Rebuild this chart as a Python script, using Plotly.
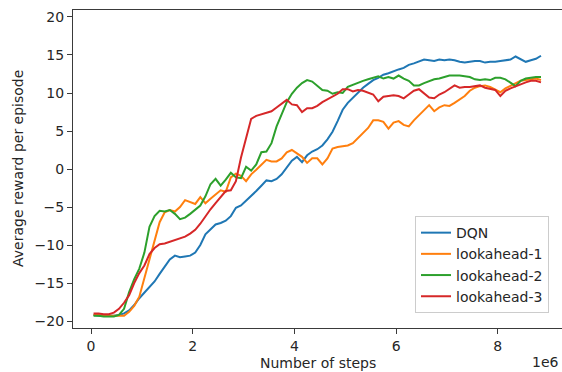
import plotly.graph_objects as go

# x positions in units of 1e6 steps
steps = [0.05, 0.15, 0.25, 0.35, 0.45, 0.55, 0.65, 0.75, 0.85, 0.95,
         1.05, 1.15, 1.25, 1.35, 1.45, 1.55, 1.65, 1.75, 1.85, 1.95,
         2.05, 2.15, 2.25, 2.35, 2.45, 2.55, 2.65, 2.75, 2.85, 2.95,
         3.05, 3.15, 3.25, 3.35, 3.45, 3.55, 3.65, 3.75, 3.85, 3.95,
         4.05, 4.15, 4.25, 4.35, 4.45, 4.55, 4.65, 4.75, 4.85, 4.95,
         5.05, 5.15, 5.25, 5.35, 5.45, 5.55, 5.65, 5.75, 5.85, 5.95,
         6.05, 6.15, 6.25, 6.35, 6.45, 6.55, 6.65, 6.75, 6.85, 6.95,
         7.05, 7.15, 7.25, 7.35, 7.45, 7.55, 7.65, 7.75, 7.85, 7.95,
         8.05, 8.15, 8.25, 8.35, 8.45, 8.55, 8.65, 8.75, 8.85]

dqn = [-19.2, -19.3, -19.3, -19.3, -19.3, -19.2, -19.0, -18.6, -17.9, -17.0,
       -16.3, -15.5, -14.8, -13.8, -12.9, -11.9, -11.4, -11.6, -11.5, -11.4,
       -11.0, -10.0, -8.6, -8.0, -7.3, -7.1, -6.8, -6.2, -5.1, -4.8,
       -4.2, -3.6, -2.9, -2.2, -1.5, -1.6, -1.3, -0.7, 0.2, 1.1,
       1.6, 0.9, 1.8, 2.3, 2.6, 3.1, 3.9, 4.9, 6.3, 7.8,
       8.7, 9.4, 10.0, 10.7, 11.2, 11.7, 12.0, 12.4, 12.6, 12.9,
       13.1, 13.3, 13.7, 13.9, 14.1, 14.4, 14.3, 14.2, 14.4, 14.3,
       14.4, 14.3, 14.1, 14.0, 14.1, 14.2, 14.2, 14.0, 14.1, 14.1,
       14.2, 14.3, 14.4, 14.8, 14.4, 14.1, 14.3, 14.5, 14.9]

lookahead1 = [-19.2, -19.2, -19.3, -19.3, -19.3, -19.3, -19.3, -18.8, -18.0, -16.8,
              -14.3, -11.8, -9.3, -7.0, -5.7, -5.4, -5.6, -5.0, -4.1, -4.4,
              -4.6, -3.7, -4.5, -3.9, -3.3, -2.8, -3.0, -1.1, -0.6, -0.9,
              -1.6, -0.7, -0.1, 0.6, 1.2, 1.0, 1.0, 1.4, 2.2, 2.5,
              2.0, 1.6, 0.8, 1.4, 1.4, 0.6, 1.4, 2.7, 2.9, 3.0,
              3.1, 3.4, 4.1, 4.8, 5.4, 6.4, 6.4, 6.2, 5.3, 6.1,
              6.3, 5.8, 5.6, 6.4, 7.1, 7.8, 8.4, 7.6, 8.1, 8.4,
              8.3, 8.7, 9.1, 9.6, 10.3, 10.7, 10.9, 11.0, 10.8, 10.4,
              10.1, 10.6, 10.9, 11.2, 11.6, 11.7, 11.8, 11.9, 11.7]

lookahead2 = [-19.3, -19.3, -19.4, -19.4, -19.4, -19.2, -18.4, -16.2, -14.5, -13.1,
              -11.0, -7.6, -6.2, -5.5, -5.6, -5.4, -5.9, -6.6, -6.4, -5.9,
              -5.4, -4.8, -3.6, -2.0, -1.3, -2.2, -1.4, -0.5, -1.1, -1.2,
              0.3, -0.2, 0.6, 2.2, 2.3, 3.4, 5.6, 7.1, 8.8, 9.9,
              10.7, 11.3, 11.7, 11.5, 11.0, 10.4, 10.3, 9.9, 10.1, 10.0,
              10.8, 11.1, 11.4, 11.6, 11.8, 12.0, 12.2, 11.9, 12.1, 11.9,
              12.3, 11.9, 11.6, 11.0, 11.0, 11.3, 11.6, 11.8, 11.9, 12.1,
              12.3, 12.3, 12.3, 12.2, 12.1, 11.8, 11.7, 11.8, 11.7, 12.0,
              12.0, 11.8, 11.3, 10.9, 11.6, 11.9, 12.0, 12.1, 12.1]

lookahead3 = [-19.0, -19.0, -19.1, -19.1, -18.9, -18.4, -17.6, -16.6, -15.0, -13.7,
              -12.7, -11.2, -10.4, -9.9, -9.8, -9.6, -9.4, -9.1, -8.9, -8.5,
              -8.0, -7.2, -6.2, -5.3, -4.5, -3.7, -2.9, -2.8, -1.6, 1.5,
              4.2, 6.6, 7.0, 7.2, 7.3, 7.6, 8.1, 8.6, 9.1, 8.5,
              8.4, 7.5, 8.0, 8.0, 8.3, 8.8, 9.2, 9.5, 9.9, 10.5,
              10.5, 10.2, 10.4, 10.3, 10.0, 9.8, 8.9, 9.5, 9.6, 9.7,
              9.6, 9.3, 9.8, 10.3, 10.5, 9.9, 9.4, 9.3, 9.8, 10.1,
              10.6, 11.0, 10.7, 10.8, 10.8, 10.9, 11.0, 10.7, 10.5, 10.4,
              9.6, 10.3, 10.6, 10.9, 11.2, 11.4, 11.6, 11.6, 11.4]

series_names = ["DQN", "lookahead-1", "lookahead-2", "lookahead-3"]
series_values = [dqn, lookahead1, lookahead2, lookahead3]
colors = ["#1f77b4", "#ff7f0e", "#2ca02c", "#d62728"]

x_ticks = [0, 2, 4, 6, 8]
x_ticklabels = ["0", "2", "4", "6", "8"]
y_ticks = [-20, -15, -10, -5, 0, 5, 10, 15, 20]

FONT = "DejaVu Sans"
TXT = "#262626"
SPINE = "#3a3a3a"

fig = go.Figure()
for name, vals, col in zip(series_names, series_values, colors):
    fig.add_trace(go.Scatter(x=steps, y=vals, mode="lines", name=name,
                             line=dict(color=col, width=2)))

fig.update_layout(
    width=562, height=372,
    margin=dict(l=73, r=0, t=10, b=44),
    paper_bgcolor="white", plot_bgcolor="white",
    font=dict(family=FONT, size=14, color=TXT),
    showlegend=True,
    legend=dict(x=0.9734, y=0.047, xanchor="right", yanchor="bottom",
                bgcolor="rgba(255,255,255,0.8)", bordercolor="#cccccc",
                borderwidth=1, font=dict(family=FONT, size=14, color=TXT),
                itemwidth=30),
    xaxis=dict(range=[-0.354, 9.263], tickvals=x_ticks, ticktext=x_ticklabels,
               showgrid=False, zeroline=False, showline=True, linecolor=SPINE,
               linewidth=1.1, mirror=True, ticks="outside", ticklen=5,
               tickwidth=1, tickcolor=SPINE, tickfont=dict(size=14, color=TXT)),
    yaxis=dict(range=[-20.92, 20.92], tickvals=y_ticks,
               showgrid=False, zeroline=False, showline=True, linecolor=SPINE,
               linewidth=1.1, mirror=False, ticks="outside", ticklen=5,
               tickwidth=1, tickcolor=SPINE, tickfont=dict(size=14, color=TXT)),
    annotations=[
        dict(text="Number of steps", xref="paper", yref="paper",
             x=(318 - 73) / 489, y=-(363 - 328) / 318, xanchor="center",
             yanchor="middle", showarrow=False, font=dict(size=14, color=TXT)),
        dict(text="Average reward per episode", xref="paper", yref="paper",
             x=-(73 - 18) / 489, y=(328 - 169) / 318, xanchor="center",
             yanchor="middle", textangle=-90, showarrow=False,
             font=dict(size=14, color=TXT)),
        dict(text="1e6", xref="paper", yref="paper",
             x=(561 - 73) / 489, y=-(362 - 328) / 318, xanchor="right",
             yanchor="middle", showarrow=False, font=dict(size=14, color=TXT)),
    ],
)

fig.write_html(
    "out.html",
    config={"displayModeBar": False},
    post_script="document.body.style.margin='0';document.body.style.overflow='hidden';",
)
